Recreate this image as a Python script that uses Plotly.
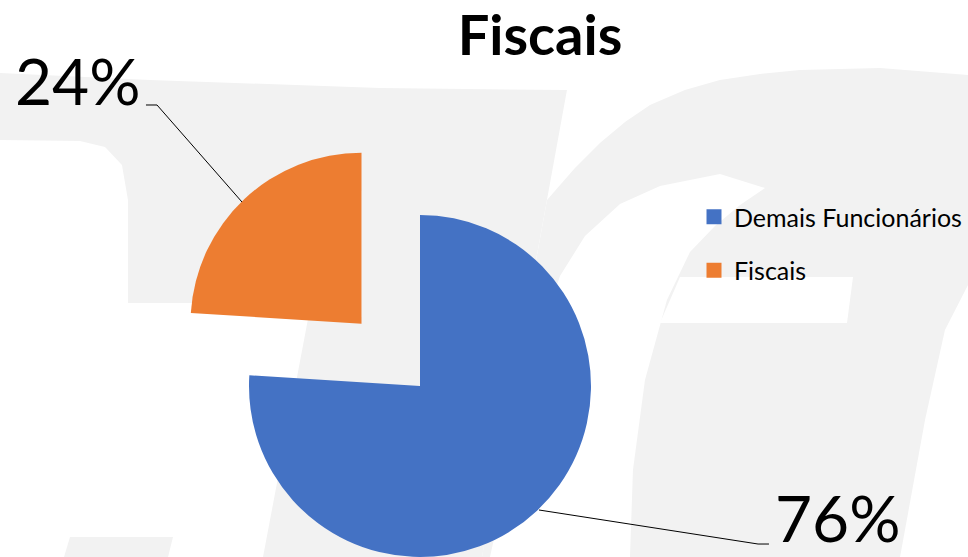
import math

import plotly.graph_objects as go

W, H = 968, 557

title = "Fiscais"
labels = ["Demais Funcionários", "Fiscais"]
values = [76, 24]
colors = ["#4472C4", "#ED7D31"]
pulls = [0, 0.5]

FONT = "Lato, 'Open Sans', sans-serif"
WM = "#f2f2f2"

# pie centre / radius in pixels (margins are zero so paper == page)
PIE_CX, PIE_CY, PIE_R = 420, 386, 171


def px_path(pts):
    return "M " + " L ".join(f"{x / W:.4f},{1 - y / H:.4f}" for x, y in pts) + " Z"


def px_line(pts):
    return "M " + " L ".join(f"{x / W:.4f},{1 - y / H:.4f}" for x, y in pts)


# light grey watermark behind the chart
wm_gray = [
    [(0, 73), (150, 80), (380, 88), (567, 90), (482, 557), (263, 557), (311, 303), (128, 303),
     (128, 200), (122, 165), (105, 147), (80, 141), (0, 140)],
    [(70, 537), (173, 537), (168, 557), (64, 557)],
    [(547, 200), (575, 168), (600, 143), (625, 122), (650, 105), (685, 90), (720, 80), (760, 74),
     (800, 70), (880, 68), (968, 75), (968, 285), (945, 330), (925, 420), (900, 557), (482, 557)],
]
wm_white = [
    [(765, 188), (720, 174), (660, 186), (620, 204), (585, 236), (560, 276), (545, 320), (520, 420),
     (490, 557), (630, 557), (633, 470), (645, 380), (667, 300), (690, 252), (715, 226), (740, 205)],
    [(680, 277), (853, 277), (847, 323), (660, 323)],
]

shapes = []
for pts in wm_gray:
    shapes.append(dict(type="path", xref="paper", yref="paper", path=px_path(pts),
                       fillcolor=WM, line=dict(width=0), layer="below"))
for pts in wm_white:
    shapes.append(dict(type="path", xref="paper", yref="paper", path=px_path(pts),
                       fillcolor="white", line=dict(width=0), layer="below"))

# leader lines for the percentage labels
leaders = [
    [(539, 510), (758, 544), (769, 544)],
    [(242, 202), (157, 105), (146, 105)],
]
for pts in leaders:
    shapes.append(dict(type="path", xref="paper", yref="paper", path=px_line(pts),
                       line=dict(color="black", width=1)))

fig = go.Figure()

total = sum(values)
start = 0.0
for i, v in enumerate(values):
    frac = v / total
    mid = (start + frac / 2) * 2 * math.pi
    start += frac
    cx = PIE_CX + pulls[i] * PIE_R * math.sin(mid)
    cy = PIE_CY - pulls[i] * PIE_R * math.cos(mid)
    slice_colors = [c if j == i else "rgba(0,0,0,0)" for j, c in enumerate(colors)]
    fig.add_trace(
        go.Pie(
            labels=labels,
            values=values,
            sort=False,
            direction="clockwise",
            rotation=0,
            marker=dict(colors=slice_colors, line=dict(width=0)),
            textinfo="none",
            hoverinfo="label+percent",
            showlegend=False,
            domain=dict(
                x=[(cx - PIE_R - 60) / W, (cx + PIE_R + 60) / W],
                y=[max(0, (H - cy - PIE_R) / H), min(1, (H - cy + PIE_R) / H)],
            ),
        )
    )

# legend entries
for name, c in zip(labels, colors):
    fig.add_trace(
        go.Scatter(
            x=[None], y=[None], mode="markers", name=name, legendgroup=name,
            marker=dict(symbol="square", size=15, color=c),
        )
    )

# percentage labels (anchor pixel positions, bottom-left of the text box)
label_pos = [(773, 558), (13, 121)]
annotations = []
for v, (x, y) in zip(values, label_pos):
    annotations.append(dict(
        text=f"{round(100 * v / total)}%", xref="paper", yref="paper",
        x=x / W, y=1 - y / H, xanchor="left", yanchor="bottom", showarrow=False,
        font=dict(family=FONT, size=64, color="black"),
    ))

fig.update_layout(
    width=W,
    height=H,
    margin=dict(l=0, r=0, t=0, b=0),
    paper_bgcolor="white",
    plot_bgcolor="rgba(0,0,0,0)",
    font=dict(family=FONT, color="black"),
    title=dict(text=f"<b>{title}</b>", x=540 / W, xanchor="center", xref="paper",
               y=1 - 16 / H, yanchor="top", font=dict(size=56, color="black")),
    xaxis=dict(visible=False),
    yaxis=dict(visible=False),
    legend=dict(x=694 / W, y=1 - 194 / H, xanchor="left", yanchor="top",
                font=dict(size=25, color="black"), bgcolor="rgba(0,0,0,0)",
                tracegroupgap=18),
    shapes=shapes,
    annotations=annotations,
)

fig.write_html("out.html", config={"displayModeBar": False},
               post_script="document.body.style.margin='0';")
